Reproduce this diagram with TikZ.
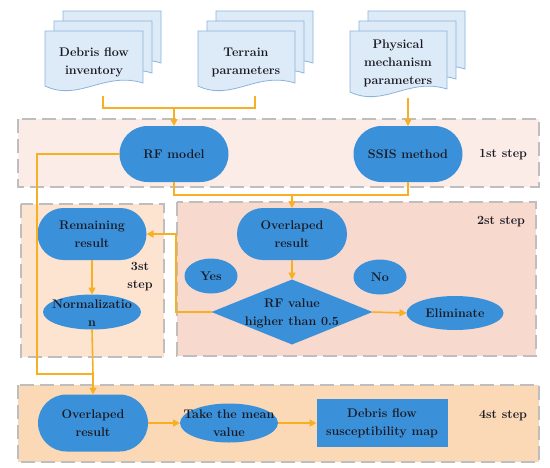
\documentclass[tikz,border=0pt]{standalone}
\usetikzlibrary{shapes.geometric,shapes.misc,arrows.meta}
\definecolor{nodeblue}{RGB}{58,145,218}
\definecolor{flow}{RGB}{247,176,36}
\definecolor{docfill}{RGB}{221,234,247}
\definecolor{docline}{RGB}{141,179,220}
\definecolor{boxa}{RGB}{252,236,231}
\definecolor{boxb}{RGB}{248,217,205}
\definecolor{boxc}{RGB}{252,228,209}
\definecolor{boxd}{RGB}{251,217,182}
\definecolor{dashgray}{RGB}{190,190,190}
\definecolor{ink}{RGB}{25,25,35}
\newcommand\docsheet[4]{%
  \draw[docsty] ({#1},{#2}) -- ({#1+#3},{#2}) -- ({#1+#3},{#2+#4-3})
    .. controls ({#1+0.6*#3},{#2+#4-15}) and ({#1+0.35*#3},{#2+#4+16}) .. ({#1},{#2+#4}) -- cycle;}
\newcommand\multidoc[4]{%
  \docsheet{#1+18}{#2-20}{#3}{#4}%
  \docsheet{#1+9}{#2-10}{#3}{#4}%
  \docsheet{#1}{#2}{#3}{#4}}
\begin{document}
\begin{tikzpicture}[x=1pt,y=-1pt,
  font=\fontsize{12.5}{18}\selectfont\bfseries,
  stepbox/.style={draw=dashgray,line width=1.6pt,dash pattern=on 14pt off 6pt},
  docsty/.style={fill=docfill,draw=docline,line width=0.8pt},
  shp/.style={fill=nodeblue,draw=none,inner sep=0pt,outer sep=0pt},
  stad/.style={shp,rounded rectangle,minimum width=#1},
  oval/.style={shp,ellipse},
  txt/.style={text=ink,align=center,inner sep=0pt},
  flowline/.style={draw=flow,line width=1.6pt},
  arrow/.style={flowline,-{Triangle[width=7pt,length=7pt]}}]
\useasboundingbox (0,0) rectangle (550,467);
% step regions
\draw[stepbox,fill=boxa] (18,119) rectangle (539,187);
\draw[stepbox,fill=boxc] (21,204) rectangle (164,357);
\draw[stepbox,fill=boxb] (177,202) rectangle (536,356);
\draw[stepbox,fill=boxd] (18,385) rectangle (539,462);
% documents
\multidoc{45}{31}{98}{55}
\multidoc{198}{31}{97}{55}
\multidoc{350}{31}{97}{61}
\node[txt] (deb) at (94,62) {Debris flow\\inventory};
\node[txt] (ter) at (246,62) {Terrain\\parameters};
\node[txt] (phy) at (398,63) {Physical\\mechanism\\parameters};
\coordinate (db) at (103,96);
\coordinate (tb) at (255,96);
\coordinate (pb) at (408,98);
% shapes
\node[stad=109pt,minimum height=56pt] (rf) at (174,154) {};
\node[stad=109pt,minimum height=56pt] (ssis) at (408,154) {};
\node[stad=109pt,minimum height=52pt] (rem) at (92,234) {};
\node[oval,minimum width=98pt,minimum height=35pt] (norm) at (92,312) {};
\node[stad=110pt,minimum height=52pt] (ovl) at (292,234) {};
\node[oval,minimum width=53pt,minimum height=35pt] (yes) at (211,276) {};
\node[oval,minimum width=53pt,minimum height=35pt] (no) at (380,277) {};
\node[shp,diamond,minimum width=161pt,minimum height=65pt] (dia) at (292,312) {};
\node[oval,minimum width=97pt,minimum height=34pt] (elim) at (455,313) {};
\node[stad=110pt,minimum height=57pt] (ovl2) at (93,423) {};
\node[oval,minimum width=98pt,minimum height=39pt] (mean) at (229,423) {};
\node[shp,rectangle,minimum width=131pt,minimum height=48pt] (map) at (382,423) {};
% texts
\node[txt] (rft) at (rf) {RF model};
\node[txt] (ssist) at (ssis) {SSIS method};
\node[txt] (remt) at (rem) {Remaining\\result};
\node[txt] (normt) at (92,313) {Normalizatio\\n};
\node[txt] (ovlt) at (ovl) {Overlaped\\result};
\node[txt] (yest) at (yes) {Yes};
\node[txt] (not) at (no) {No};
\node[txt] (diat) at (292,313) {RF value\\higher than 0.5};
\node[txt] (elimt) at (elim) {Eliminate};
\node[txt] (ovl2t) at (ovl2) {Overlaped\\result};
\node[txt] (meant) at (mean) {Take the mean\\value};
\node[txt] (mapt) at (map) {Debris flow\\susceptibility map};
\node[txt] (s1) at (503,155) {1st step};
\node[txt] (s2) at (501,222) {2st step};
\node[txt] (s3) at (140,277) {3st\\step};
\node[txt] (s4) at (503,416) {4st step};
% connectors
\coordinate (j1) at (174,108);
\coordinate (j2) at (292,195);
\coordinate (yb) at (176,234);
\coordinate (lc) at (37,374);
\coordinate (j3) at (93,374);
\draw[flowline] (db) |- (j1) -| (tb);
\draw[arrow] (j1) -- (rf.north);
\draw[arrow] (pb) -- (ssis.north);
\draw[flowline] (rf.south) |- (j2) -| (ssis.south);
\draw[arrow] (j2) -- (ovl.north);
\draw[arrow] (ovl.south) -- (dia.north);
\draw[arrow] (dia.east) -- (elim.west);
\draw[arrow] (dia.west) -| (yb) -- (rem.east);
\draw[arrow] (rem.south) -- (norm.north);
\draw[flowline] (rf.west) -| (lc) -- (j3);
\draw[flowline] (norm.south) -- (j3);
\draw[arrow] (j3) -- (ovl2.north);
\draw[arrow] (ovl2.east) -- (mean.west);
\draw[arrow] (mean.east) -- (map.west);
\end{tikzpicture}
\end{document}
